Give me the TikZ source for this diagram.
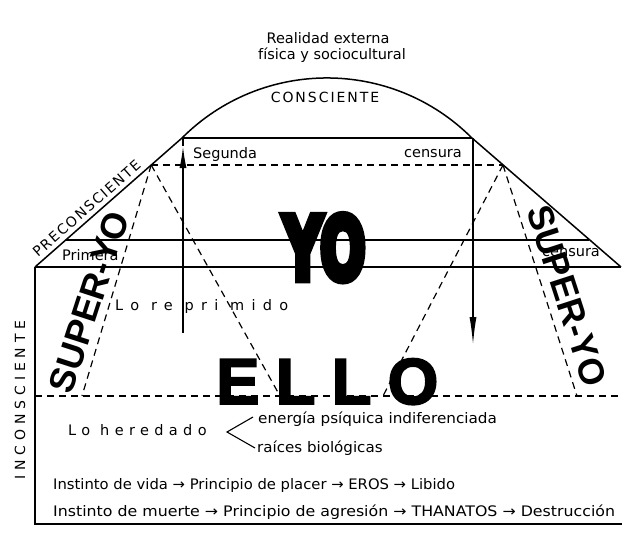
\documentclass[tikz,border=0pt]{standalone}
\usepackage{fontspec}
\setmainfont{DejaVu Sans}
\newfontfamily\libsans{Liberation Sans}
\newfontfamily\ellofont{Liberation Sans}[LetterSpace=25,FakeBold=3]
\newfontfamily\yofont{DejaVu Sans}[FakeBold=10]
\newfontfamily\trackA{DejaVu Sans}[LetterSpace=50]
\newfontfamily\trackB{DejaVu Sans}[LetterSpace=37]
\newfontfamily\trackC{DejaVu Sans}[LetterSpace=35]
\newfontfamily\trackD{DejaVu Sans}[LetterSpace=14]
\newfontfamily\trackE{DejaVu Sans}[LetterSpace=12]
\usetikzlibrary{arrows.meta}
\begin{document}
\begin{tikzpicture}[x=1pt,y=-1pt,
  lin/.style={line width=1.5pt, line join=round},
  heavyline/.style={line width=1.9pt},
  dl/.style={line width=1.2pt, dash pattern=on 7pt off 5pt},
  txt/.style={font=\fontsize{14.5}{17}\selectfont, inner sep=0pt},
  yostyle/.style={font=\fontsize{86}{86}\selectfont\yofont\bfseries, inner sep=0pt, xscale=0.62, anchor=base},
  ellostyle/.style={font=\fontsize{65}{65}\selectfont\ellofont\bfseries, inner sep=0pt, anchor=base west},
  superyo/.style={font=\fontsize{36}{36}\selectfont\libsans\bfseries, inner sep=0pt}]
\fill[white] (0,0) rectangle (622,546);
\useasboundingbox (0,0) rectangle (622,546);

% key points
\coordinate (TL) at (182,138);
\coordinate (TR) at (472,138);
\coordinate (BL) at (35,267);
\coordinate (BR) at (621,267);
\coordinate (UL) at (65.8,240);
\coordinate (UR) at (589,240);
\coordinate (AL) at (151.2,165);
\coordinate (AR) at (503,165);
\coordinate (BB) at (35,524);
\coordinate (BBR) at (622,524);

% arc and frame
\draw[lin] (TL) arc[start angle=225,end angle=315,radius=205];
\draw[lin] (TL) -- (TR);
\draw[lin] (BL) -- (TL);
\draw[lin] (TR) -- (BR);
\draw[lin] (UL) -- (UR);
\draw[lin] (BL) -- (BR);
\draw[heavyline] (BL) -- (BB) -- (BBR);

% arrows
\coordinate (ua0) at (183,333);
\coordinate (ua1) at (183,146);
\coordinate (da0) at (473,138);
\coordinate (da1) at (473,345);
\draw[lin, -{Latex[length=22pt,width=7pt]}] (ua0) -- (ua1);
\draw[lin] (ua1) -- (183,138);
\draw[lin, -{Latex[length=28pt,width=7pt]}] (da0) -- (da1);

% dashed lines
\coordinate (dl1) at (82,396);
\coordinate (dl2) at (280,396);
\coordinate (dr1) at (383,396);
\coordinate (dr2) at (577,396);
\coordinate (db0) at (35,396);
\coordinate (db1) at (622,396);
\draw[dl] (AL) -- (AR);
\draw[dl] (AL) -- (dl1);
\draw[dl] (AL) -- (dl2);
\draw[dl] (AR) -- (dr1);
\draw[dl] (AR) -- (dr2);
\draw[dl] (db0) -- (db1);

% texts
\node[txt, anchor=base] (real1) at (328,43) {Realidad externa};
\node[txt, anchor=base] (real2) at (332,59) {física y sociocultural};
\node[txt, anchor=base, font=\fontsize{14}{17}\selectfont\trackD] (cons) at (325,102) {CONSCIENTE};
\node[txt, anchor=base west] (seg) at (193,158) {Segunda};
\node[txt, anchor=base east] (cen1) at (462,157) {censura};
\node[txt, anchor=base west] (prim) at (62,260) {Primera};
\node[txt, anchor=base west] (cen2) at (542,256) {censura};
\node[txt, anchor=base west, font=\fontsize{14.5}{17}\selectfont\trackA] (repr) at (115,310) {Lo re pri mido};
\node[txt, anchor=base west, font=\fontsize{14.5}{17}\selectfont\trackB] (here) at (68,435) {Lo heredado};
\node[txt, anchor=base west, xscale=1.05] (ener) at (258,423) {energía psíquica indiferenciada};
\node[txt, anchor=base west, xscale=1.04] (raic) at (257,452) {raíces biológicas};
\node[txt, anchor=base west, xscale=1.02] (vida) at (53,489) {Instinto de vida → Principio de placer → EROS → Libido};
\node[txt, anchor=base west, xscale=1.09] (muer) at (53,516) {Instinto de muerte → Principio de agresión → THANATOS → Destrucción};
\node[txt, rotate=41.3, font=\fontsize{14}{17}\selectfont\trackE] (prec) at (86.5,208.5) {PRECONSCIENTE};
\node[txt, rotate=90, anchor=base, font=\fontsize{14}{17}\selectfont\trackC] (inco) at (25,400) {INCONSCIENTE};

% brace
\coordinate (bt) at (227,432);
\coordinate (bu) at (253,417);
\coordinate (bd) at (255,448);
\draw[line width=1.1pt] (bu) -- (bt) -- (bd);

% big words
\node[yostyle] (yo) at (324.5,279) {YO};
\node[ellostyle] (ello) at (216,404) {ELLO};
\node[superyo, rotate=72] (syl) at (89,302) {SUPER-YO};
\node[superyo, rotate=-72] (syr) at (567,296) {SUPER-YO};
\end{tikzpicture}
\end{document}
